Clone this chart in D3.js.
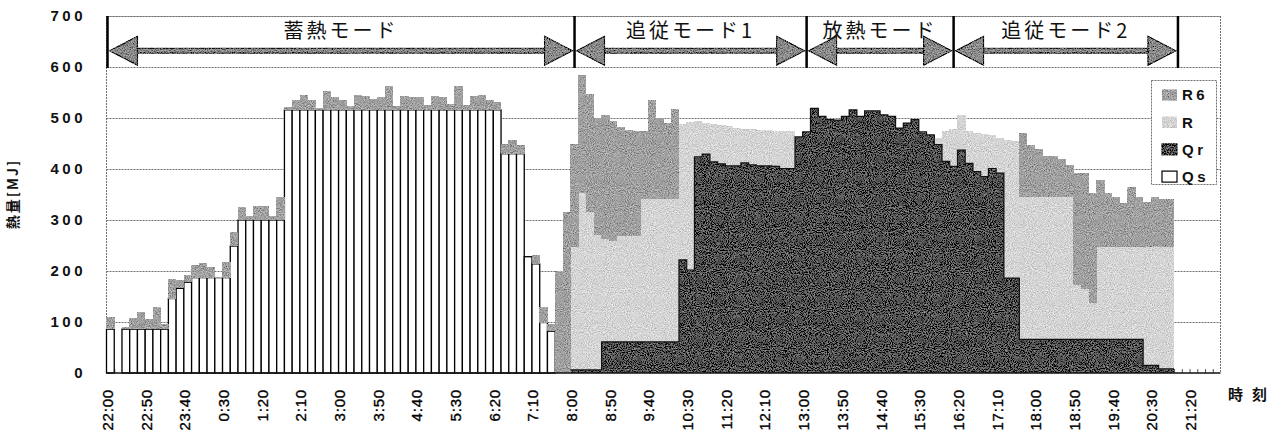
<!DOCTYPE html>
<html>
<head>
<meta charset="utf-8">
<script src="https://cdn.jsdelivr.net/npm/d3@7"></script>
<style>
  html, body { margin: 0; padding: 0; background: #fff; }
  svg { display: block; }
</style>
</head>
<body>
<svg id="chart" width="1278" height="437"></svg>
<script>
// 10-minute time slots, 22:00 through 21:50 of the next day
const categories = [
  "22:00","22:10","22:20","22:30","22:40","22:50",
  "23:00","23:10","23:20","23:30","23:40","23:50",
  "0:00","0:10","0:20","0:30","0:40","0:50",
  "1:00","1:10","1:20","1:30","1:40","1:50",
  "2:00","2:10","2:20","2:30","2:40","2:50",
  "3:00","3:10","3:20","3:30","3:40","3:50",
  "4:00","4:10","4:20","4:30","4:40","4:50",
  "5:00","5:10","5:20","5:30","5:40","5:50",
  "6:00","6:10","6:20","6:30","6:40","6:50",
  "7:00","7:10","7:20","7:30","7:40","7:50",
  "8:00","8:10","8:20","8:30","8:40","8:50",
  "9:00","9:10","9:20","9:30","9:40","9:50",
  "10:00","10:10","10:20","10:30","10:40","10:50",
  "11:00","11:10","11:20","11:30","11:40","11:50",
  "12:00","12:10","12:20","12:30","12:40","12:50",
  "13:00","13:10","13:20","13:30","13:40","13:50",
  "14:00","14:10","14:20","14:30","14:40","14:50",
  "15:00","15:10","15:20","15:30","15:40","15:50",
  "16:00","16:10","16:20","16:30","16:40","16:50",
  "17:00","17:10","17:20","17:30","17:40","17:50",
  "18:00","18:10","18:20","18:30","18:40","18:50",
  "19:00","19:10","19:20","19:30","19:40","19:50",
  "20:00","20:10","20:20","20:30","20:40","20:50",
  "21:00","21:10","21:20","21:30","21:40","21:50"
];

const tickLabels = [
  "22:00","22:50","23:40","0:30","1:20","2:10","3:00","3:50","4:40","5:30",
  "6:20","7:10","8:00","8:50","9:40","10:30","11:20","12:10","13:00","13:50",
  "14:40","15:30","16:20","17:10","18:00","18:50","19:40","20:30","21:20"
];

const yTicks = [0, 100, 200, 300, 400, 500, 600, 700];

// Heat quantities per slot [MJ]
const Qs = [
  86,0,86,86,86,86,86,86,146,166,
  178,187,187,187,187,187,249,300,300,300,
  300,300,300,516,516,516,516,516,516,516,
  516,516,516,516,516,516,516,516,516,516,
  516,516,516,516,516,516,516,516,516,516,
  516,430,430,430,228,214,99,82,0,0,
  0,0,0,0,0,0,0,0,0,0,
  0,0,0,0,0,0,0,0,0,0,
  0,0,0,0,0,0,0,0,0,0,
  0,0,0,0,0,0,0,0,0,0,
  0,0,0,0,0,0,0,0,0,0,
  0,0,0,0,0,0,0,0,0,0,
  0,0,0,0,0,0,0,0,0,0,
  0,0,0,0,0,0,0,0,0,0,
  0,0,0,0
];

const Qr = [
  0,0,0,0,0,0,0,0,0,0,
  0,0,0,0,0,0,0,0,0,0,
  0,0,0,0,0,0,0,0,0,0,
  0,0,0,0,0,0,0,0,0,0,
  0,0,0,0,0,0,0,0,0,0,
  0,0,0,0,0,0,0,0,0,0,
  6,6,6,6,61,61,61,61,61,61,
  61,61,61,61,222,202,424,429,414,410,
  406,406,412,408,406,406,405,401,401,463,
  473,519,503,497,496,503,516,503,514,514,
  506,503,480,490,497,473,467,448,415,405,
  437,411,395,385,401,392,186,186,66,66,
  66,66,66,66,66,66,66,66,66,66,
  66,66,66,66,15,15,8,8,0,0,
  0,0,0,0
];

const R = [
  0,0,0,0,0,0,0,0,0,0,
  0,0,0,0,0,0,0,0,0,0,
  0,0,0,0,0,0,0,0,0,0,
  0,0,0,0,0,0,0,0,0,0,
  0,0,0,0,0,0,0,0,0,0,
  0,0,0,0,0,0,0,0,0,0,
  242,346,310,264,201,197,207,207,207,281,
  281,281,281,281,266,290,71,61,74,76,
  78,74,66,70,70,70,70,73,73,0,
  0,0,0,0,0,0,0,0,0,0,
  0,0,0,0,0,0,0,12,60,73,
  69,64,75,83,65,68,271,269,280,280,
  280,280,280,280,280,106,99,71,182,182,
  182,182,182,182,233,233,240,240,0,0,
  0,0,0,0
];

const R6 = [
  24,0,5,22,34,19,44,11,38,16,
  14,25,28,21,2,31,28,26,7,28,
  27,7,46,6,19,29,19,3,36,26,
  19,8,29,27,21,25,47,8,27,26,
  25,9,27,25,11,47,9,27,29,19,
  16,20,27,17,0,17,30,15,200,316,
  202,232,232,230,244,237,214,208,206,132,
  193,158,148,175,0,0,0,0,0,0,
  0,0,0,0,0,0,0,0,0,0,
  0,0,0,0,0,0,0,0,0,0,
  0,0,0,0,0,0,0,0,0,0,
  0,0,0,0,0,0,0,0,124,102,
  94,79,79,74,62,220,227,215,130,104,
  98,85,117,98,88,98,94,94,0,0,
  0,0,0,0
];

// Operating modes shown above the bars (slot where each mode starts / ends)
const modeLabels = ["蓄熱モード", "追従モード1", "放熱モード", "追従モード2"];
const modeEdges  = ["22:00", "8:00", "13:00", "16:10", "21:00"];

const seriesKeys = ["Qs", "Qr", "R", "R6"];
const legendOrder = ["R6", "R", "Qr", "Qs"];
const fills  = { Qs: "#ffffff", Qr: "#505050", R: "#d4d4d4", R6: "#a0a0a0" };

const table = categories.map((t, i) => ({ t, Qs: Qs[i], Qr: Qr[i], R: R[i], R6: R6[i] }));

const svg = d3.select("#chart");
const plot = { left: 106.5, right: 1220.5, top: 16, bottom: 373 };

const x = d3.scaleBand().domain(categories).range([plot.left, plot.right]).padding(0);
const y = d3.scaleLinear().domain([0, 700]).range([plot.bottom, plot.top]);
const bw = x.bandwidth();

// printed-screen grain for the grey fills
const defs = svg.append("defs");
const grain = defs.append("filter").attr("id", "grain")
  .attr("filterUnits", "userSpaceOnUse")
  .attr("x", 0).attr("y", 0).attr("width", 1278).attr("height", 437);
grain.append("feTurbulence").attr("type", "fractalNoise")
  .attr("baseFrequency", 0.95).attr("numOctaves", 2).attr("seed", 7).attr("result", "noise");
grain.append("feColorMatrix").attr("in", "noise").attr("type", "matrix")
  .attr("values", "1 0 0 0 0  1 0 0 0 0  1 0 0 0 0  0 0 0 0 1").attr("result", "gnoise");
grain.append("feComposite").attr("in", "SourceGraphic").attr("in2", "gnoise")
  .attr("operator", "arithmetic").attr("k1", 0).attr("k2", 1).attr("k3", 0.75).attr("k4", -0.375)
  .attr("result", "mixed");
grain.append("feComposite").attr("in", "mixed").attr("in2", "SourceGraphic").attr("operator", "in");

// gridlines
svg.append("g").selectAll("line").data(yTicks.filter(v => v > 0)).join("line")
  .attr("x1", plot.left).attr("x2", plot.right)
  .attr("y1", d => y(d) + 0.5).attr("y2", d => y(d) + 0.5)
  .attr("stroke", "#6f6f6f").attr("stroke-width", 1)
  .attr("stroke-dasharray", "2,1");

// plot frame (left / right)
svg.append("line").attr("x1", plot.left).attr("x2", plot.left)
  .attr("y1", plot.top).attr("y2", plot.bottom)
  .attr("stroke", "#6f6f6f").attr("stroke-dasharray", "2,1");
svg.append("line").attr("x1", plot.right).attr("x2", plot.right)
  .attr("y1", plot.top).attr("y2", plot.bottom)
  .attr("stroke", "#6f6f6f").attr("stroke-dasharray", "2,1");

// category tick marks along the base
svg.append("g").selectAll("line").data(categories).join("line")
  .attr("x1", d => x(d) + 0.5).attr("x2", d => x(d) + 0.5)
  .attr("y1", plot.bottom - 4).attr("y2", plot.bottom)
  .attr("stroke", "#555").attr("stroke-width", 1);

// stacked bars
const stacked = d3.stack().keys(seriesKeys)(table);
const layers = svg.append("g").selectAll("g").data(stacked).join("g")
  .attr("fill", d => fills[d.key])
  .attr("filter", d => (d.key === "Qs" ? null : "url(#grain)"));

layers.each(function (layer) {
  const key = layer.key;
  const g = d3.select(this);
  const pts = layer.filter(p => p[1] - p[0] > 0);
  if (key === "Qs") {
    g.selectAll("rect").data(pts).join("rect")
      .attr("x", p => x(p.data.t))
      .attr("width", bw)
      .attr("y", p => y(p[1]))
      .attr("height", p => y(p[0]) - y(p[1]))
      .attr("stroke", "#000").attr("stroke-width", 1.3);
  } else {
    g.selectAll("rect").data(pts).join("rect")
      .attr("x", p => x(p.data.t) - 0.3)
      .attr("width", bw + 0.6)
      .attr("y", p => y(p[1]))
      .attr("height", p => y(p[0]) - y(p[1]))
      .attr("shape-rendering", "crispEdges");
  }
});

// outline along the top of the Qr area
{
  const qrLayer = stacked.find(s => s.key === "Qr");
  const pts = [];
  qrLayer.forEach(p => {
    if (p[1] - p[0] <= 0) return;
    pts.push([x(p.data.t), y(p[1])], [x(p.data.t) + bw, y(p[1])]);
  });
  svg.append("path").attr("d", d3.line()(pts)).attr("fill", "none")
    .attr("stroke", "#111").attr("stroke-width", 1.2);
}

// base axis
svg.append("line").attr("x1", plot.left).attr("x2", plot.right)
  .attr("y1", plot.bottom).attr("y2", plot.bottom)
  .attr("stroke", "#111").attr("stroke-width", 1.5);

// top frame line
svg.append("line").attr("x1", plot.left).attr("x2", plot.right)
  .attr("y1", plot.top + 0.5).attr("y2", plot.top + 0.5)
  .attr("stroke", "#6f6f6f").attr("stroke-dasharray", "2,1");

// y tick labels
svg.append("g").selectAll("text").data(yTicks).join("text")
  .attr("x", 86).attr("y", d => y(d)).attr("dy", "0.36em")
  .attr("text-anchor", "end")
  .attr("font-family", "'Liberation Sans', Arial, sans-serif")
  .attr("font-size", 15).attr("font-weight", 700).attr("letter-spacing", 3.5).attr("fill", "#111")
  .text(d => d);

// y axis title
svg.append("text")
  .attr("transform", "translate(13,194) rotate(-90)")
  .attr("text-anchor", "middle").attr("dy", "0.35em")
  .attr("font-family", "'Noto Sans CJK JP', sans-serif")
  .attr("font-size", 14).attr("font-weight", 700).attr("letter-spacing", 2)
  .attr("fill", "#111")
  .text("熱量[MJ]");

// x tick labels
svg.append("g").selectAll("text").data(tickLabels).join("text")
  .attr("transform", d => `translate(${x(d) + 1},389) rotate(-90)`)
  .attr("text-anchor", "end").attr("dy", "0.36em")
  .attr("font-family", "'Liberation Sans', Arial, sans-serif")
  .attr("font-size", 15).attr("letter-spacing", 0.8).attr("fill", "#000")
  .attr("stroke", "#000").attr("stroke-width", 0.35)
  .text(d => d);

// x axis title
svg.append("text").attr("x", 1228).attr("y", 400)
  .attr("font-family", "'Noto Sans CJK JP', sans-serif")
  .attr("font-size", 15).attr("font-weight", 700).attr("letter-spacing", 9)
  .attr("fill", "#111")
  .text("時刻");

// operating-mode annotations
const bandTop = y(700), bandBottom = y(600);
const arrowY = bandTop + 0.68 * (bandBottom - bandTop);
const edgeX = t => (t === categories[0] ? x(t) + 1 : x(t) + bw / 2);
const headLen = 28, headHalf = 14.5, shaftHalf = 2.5;
const arrowFill = "#8a8a8a";

const ann = svg.append("g");
const arrows = ann.append("g").attr("filter", "url(#grain)");
modeEdges.forEach(t => {
  ann.append("line").attr("x1", edgeX(t)).attr("x2", edgeX(t))
    .attr("y1", bandTop).attr("y2", bandBottom + 1)
    .attr("stroke", "#000").attr("stroke-width", 2.5);
});
modeLabels.forEach((label, i) => {
  const a = edgeX(modeEdges[i]) + 2, b = edgeX(modeEdges[i + 1]) - 2;
  arrows.append("rect")
    .attr("x", a + headLen - 1).attr("width", b - a - 2 * headLen + 2)
    .attr("y", arrowY - shaftHalf).attr("height", 2 * shaftHalf)
    .attr("fill", arrowFill).attr("stroke", "#111").attr("stroke-width", 1);
  arrows.append("polygon")
    .attr("points", [[a, arrowY], [a + headLen, arrowY - headHalf], [a + headLen, arrowY + headHalf]].join(" "))
    .attr("fill", arrowFill).attr("stroke", "#111").attr("stroke-width", 1.2);
  arrows.append("polygon")
    .attr("points", [[b, arrowY], [b - headLen, arrowY - headHalf], [b - headLen, arrowY + headHalf]].join(" "))
    .attr("fill", arrowFill).attr("stroke", "#111").attr("stroke-width", 1.2);
  ann.append("text")
    .attr("x", (a + b) / 2).attr("y", bandTop + 0.43 * (bandBottom - bandTop))
    .attr("text-anchor", "middle")
    .attr("font-family", "'Noto Sans CJK JP', sans-serif")
    .attr("font-size", 20).attr("letter-spacing", 3).attr("fill", "#111")
    .text(label);
});

// legend
const lg = svg.append("g");
lg.append("rect").attr("x", 1151.5).attr("y", 80.5).attr("width", 65).attr("height", 104)
  .attr("fill", "#fff").attr("stroke", "#6f6f6f").attr("stroke-dasharray", "2,1");
legendOrder.forEach((key, i) => {
  const cy = 95 + i * 27.2;
  lg.append("rect").attr("x", 1162).attr("y", cy - 5.5).attr("width", 15).attr("height", 11)
    .attr("fill", fills[key])
    .attr("filter", key === "Qs" ? null : "url(#grain)")
    .attr("stroke", key === "Qs" || key === "Qr" ? "#000" : "none").attr("stroke-width", 1.2);
  lg.append("text").attr("x", 1182).attr("y", cy).attr("dy", "0.36em")
    .attr("font-family", "'Liberation Sans', Arial, sans-serif")
    .attr("font-size", 15).attr("font-weight", 700).attr("letter-spacing", 3.5).attr("fill", "#111")
    .text(key);
});
</script>
</body>
</html>
